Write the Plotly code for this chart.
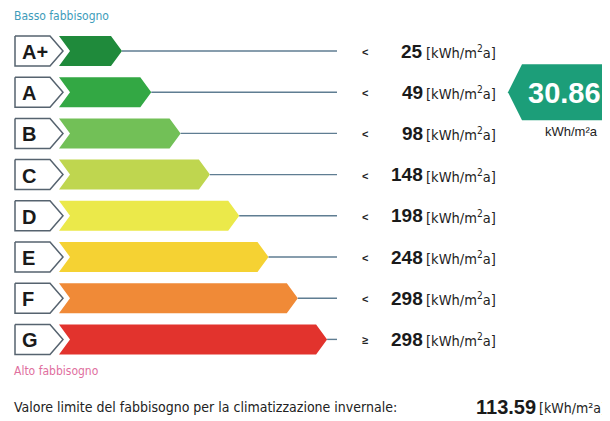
import plotly.graph_objects as go

classes = ["A+", "A", "B", "C", "D", "E", "F", "G"]
thresholds = [25, 49, 98, 148, 198, 248, 298, 298]
comparators = ["<", "<", "<", "<", "<", "<", "<", "≥"]
bar_colors = ["#1f8a3b", "#33a844", "#72c057", "#bfd64f", "#ebe94a", "#f5d233", "#f08a37", "#e2332d"]
unit = "[kWh/m<sup>2</sup>a]"
current_value = 30.86
current_class_index = 1
limit_value = 113.59
label_low = "Basso fabbisogno"
label_high = "Alto fabbisogno"
limit_text = "Valore limite del fabbisogno per la climatizzazione invernale:"

W, H = 610, 421
PAGE_MARGIN = 8  # default body margin of the html page
row_y0, row_dy, half_h = 51, 41.2, 15
box_l, box_r, box_tip = 15, 50, 63
bar_l, bar_notch = 59, 70
tip0, tip_step, shoulder = 122, 29.3, 11
line_end = 337

NARROW = "Liberation Sans Narrow, DejaVu Sans Condensed, Arial Narrow, sans-serif"
SANS = "Liberation Sans, Arial, sans-serif"

fig = go.Figure()
ann = []

for i, (c, t, comp, col) in enumerate(zip(classes, thresholds, comparators, bar_colors)):
    yc = row_y0 + i * row_dy
    yt, yb = yc - half_h, yc + half_h
    tip = tip0 + tip_step * i
    fig.add_trace(go.Scatter(
        x=[bar_l, tip - shoulder, tip, tip - shoulder, bar_l, bar_notch, bar_l],
        y=[yt, yt, yc, yb, yb, yc, yt],
        fill="toself", fillcolor=col, line=dict(width=0), mode="lines",
        hoverinfo="skip", showlegend=False))
    fig.add_trace(go.Scatter(
        x=[tip, line_end], y=[yc, yc], mode="lines",
        line=dict(color="#5f7d92", width=1.4), hoverinfo="skip", showlegend=False))
    fig.add_trace(go.Scatter(
        x=[box_l, box_r, box_tip, box_r, box_l, box_l],
        y=[yt, yt, yc, yb, yb, yt],
        fill="toself", fillcolor="white", mode="lines",
        line=dict(color="#56636f", width=1.5), hoverinfo="skip", showlegend=False))
    ann.append(dict(x=20, y=yc + 1, text=f"<b>{c}</b>", xanchor="left", yanchor="middle",
                    showarrow=False, font=dict(family=SANS, size=20, color="#1a1a1a")))
    ann.append(dict(x=365, y=yc + 1, text=f"<b>{comp}</b>", xanchor="center", yanchor="middle",
                    showarrow=False, font=dict(family=SANS, size=11, color="#222")))
    ann.append(dict(x=425, y=yc, text=f"<b>{t}</b>", xanchor="right", yanchor="middle",
                    showarrow=False, font=dict(family=SANS, size=19, color="#1a1a1a")))
    ann.append(dict(x=424, y=yc + 1, text=unit, xanchor="left", yanchor="middle",
                    showarrow=False, font=dict(family=NARROW, size=14.5, color="#222")))

# current value badge
yc = row_y0 + current_class_index * row_dy
fig.add_trace(go.Scatter(
    x=[508, 522, 610, 610, 522, 508], y=[yc, yc - 28, yc - 28, yc + 28, yc + 28, yc],
    fill="toself", fillcolor="#1c9e79", line=dict(width=0), mode="lines",
    hoverinfo="skip", showlegend=False))
ann.append(dict(x=564, y=yc + 1, text=f"<b>{current_value:.2f}</b>", xanchor="center", yanchor="middle",
                showarrow=False, font=dict(family=SANS, size=29, color="white")))
ann.append(dict(x=571, y=yc + 39, text="kWh/m²a", xanchor="center", yanchor="middle",
                showarrow=False, font=dict(family=SANS, size=13, color="#222")))

# side texts
ann.append(dict(x=12, y=16, text=label_low, xanchor="left", yanchor="middle",
                showarrow=False, font=dict(family=NARROW, size=12, color="#3e9cba")))
ann.append(dict(x=12, y=371, text=label_high, xanchor="left", yanchor="middle",
                showarrow=False, font=dict(family=NARROW, size=12, color="#e06f9e")))
ann.append(dict(x=12, y=407, text=limit_text, xanchor="left", yanchor="middle",
                showarrow=False, font=dict(family=NARROW, size=14, color="#222")))
ann.append(dict(x=538, y=407, text=f"<b>{limit_value:.2f}</b>", xanchor="right", yanchor="middle",
                showarrow=False, font=dict(family=SANS, size=20, color="#1a1a1a")))
ann.append(dict(x=537, y=408, text="[kWh/m²a]", xanchor="left", yanchor="middle",
                showarrow=False, font=dict(family=NARROW, size=14, color="#222")))

fig.update_layout(
    width=W - PAGE_MARGIN, height=H - PAGE_MARGIN, margin=dict(l=0, r=0, t=0, b=0),
    paper_bgcolor="white", plot_bgcolor="white",
    xaxis=dict(range=[PAGE_MARGIN, W], visible=False, fixedrange=True),
    yaxis=dict(range=[H, PAGE_MARGIN], visible=False, fixedrange=True),
    annotations=ann,
)

fig.write_html("out.html")
